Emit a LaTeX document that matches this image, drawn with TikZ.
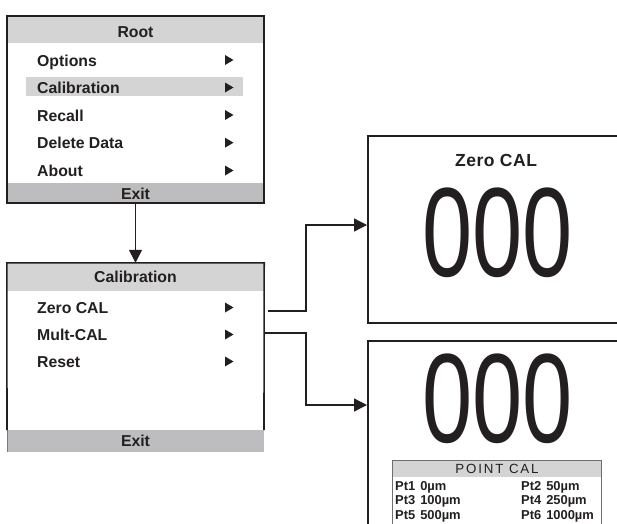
\documentclass[tikz,border=0pt]{standalone}
\usepackage{fontspec}
\setmainfont{Liberation Sans}
\usetikzlibrary{arrows.meta}
\definecolor{ink}{HTML}{231F20}
\definecolor{hdrgray}{HTML}{D4D4D4}
\definecolor{exitgray}{HTML}{BDBDBF}
\definecolor{tblgray}{HTML}{6E6E6E}
\newcommand\mtri[1]{\fill[ink] (225,{#1-5}) -- (233.5,{#1}) -- (225,{#1+5}) -- cycle;}
\begin{document}
\begin{tikzpicture}[x=1pt,y=-1pt,
  frame/.style={draw=ink,line width=1.6pt,inner sep=0pt},
  ghost/.style={draw=none,inner sep=0pt},
  item/.style={anchor=base west,inner sep=0pt,font=\fontsize{15.8}{18}\selectfont\bfseries,text=ink},
  head/.style={anchor=base,inner sep=0pt,font=\fontsize{15.8}{18}\selectfont\bfseries,text=ink},
  conn/.style={draw=ink,line width=1.3pt},
  arr/.style={conn,-{Triangle[length=13pt,width=13pt]}},
  big/.style={inner sep=0pt,font=\fontsize{127}{127}\selectfont,text=ink,xscale=0.71},
  pt/.style={anchor=base west,inner sep=0pt,font=\fontsize{12.9}{14}\selectfont\bfseries,text=ink}]
\useasboundingbox (0,0) rectangle (617,523);
\fill[white] (0,0) rectangle (617,523);

% ---------- Root menu ----------
\fill[hdrgray] (7,16) rectangle (264,43);
\fill[exitgray] (7,183) rectangle (264,203);
\fill[hdrgray] (26,77) rectangle (243,96);
\node[frame,minimum width=257pt,minimum height=187pt] (root) at (135.5,109.5) {};
\node[head] (roott) at (135.5,37.3) {Root};
\node[item] (o1) at (37,66) {Options};
\node[item] (o2) at (37,93.3) {Calibration};
\node[item] (o3) at (37,121) {Recall};
\node[item] (o4) at (37,148.7) {Delete Data};
\node[item] (o5) at (37,176.5) {About};
\node[head] (rexit) at (135.5,199) {Exit};
\mtri{60}\mtri{87.5}\mtri{115}\mtri{142.7}\mtri{170.5}

% ---------- Calibration menu ----------
\node[ghost,minimum width=257pt,minimum height=189pt] (cal) at (135.5,357.5) {};
\fill[hdrgray] (cal.north west) rectangle (264,291);
\fill[exitgray] (7,430) rectangle (cal.south east);
\draw[ink!60,line width=1pt] (7,430) -- (7,452);
\draw[ink,line width=1.6pt] (7,430) -- (cal.north west) -- (cal.north east) -- (264,430);
\node[head] (calt) at (135.5,282.7) {Calibration};
\node[item] (c1) at (37,313.3) {Zero CAL};
\node[item] (c2) at (37,340.3) {Mult-CAL};
\node[item] (c3) at (37,367.3) {Reset};
\node[head] (cexit) at (135.5,446) {Exit};
\mtri{307.5}\mtri{334.5}\mtri{361.5}

\draw[arr] (root.south) -- (cal.north);

% ---------- Zero CAL screen ----------
\node[frame,minimum width=290pt,minimum height=187pt,anchor=north west] (zbox) at (367,135) {};
\node[anchor=base,inner sep=0pt,text=ink,font=\fontsize{17.5}{20}\selectfont\bfseries\addfontfeature{LetterSpace=3}] (ztitle) at (496,166.7) {Zero CAL};
\node[big] (zdig) at (497.5,232.5) {000};

% ---------- Mult-CAL screen ----------
\node[frame,minimum width=290pt,minimum height=220pt,anchor=north west] (mbox) at (367,340) {};
\node[big] (mdig) at (497.5,399) {000};
\fill[hdrgray] (392,460) rectangle (601,477);
\node[draw=tblgray,line width=1pt,inner sep=0pt,minimum width=209pt,minimum height=80pt,anchor=north west] (tbl) at (392,460) {};
\node[anchor=base,inner sep=0pt,text=ink,font=\fontsize{13.3}{15}\selectfont\addfontfeature{LetterSpace=14}] (ptitle) at (497,473.8) {POINT CAL};
\node[pt] (p1) at (395,490) {Pt1\hspace{5pt}0µm};
\node[pt] (p3) at (395,504.5) {Pt3\hspace{5pt}100µm};
\node[pt] (p5) at (395,519) {Pt5\hspace{5pt}500µm};
\node[pt] (p2) at (521,490) {Pt2\hspace{5pt}50µm};
\node[pt] (p4) at (521,504.5) {Pt4\hspace{5pt}250µm};
\node[pt] (p6) at (521,519) {Pt6\hspace{5pt}1000µm};

% ---------- connectors ----------
\coordinate (zout) at (268,311);
\coordinate (zin) at (367,225);
\coordinate (mout) at (265,333);
\coordinate (min) at (367,405);
\draw[arr] (zout) -- ++(38,0) |- (zin);
\draw[arr] (mout) -- ++(41,0) |- (min);
\end{tikzpicture}
\end{document}
